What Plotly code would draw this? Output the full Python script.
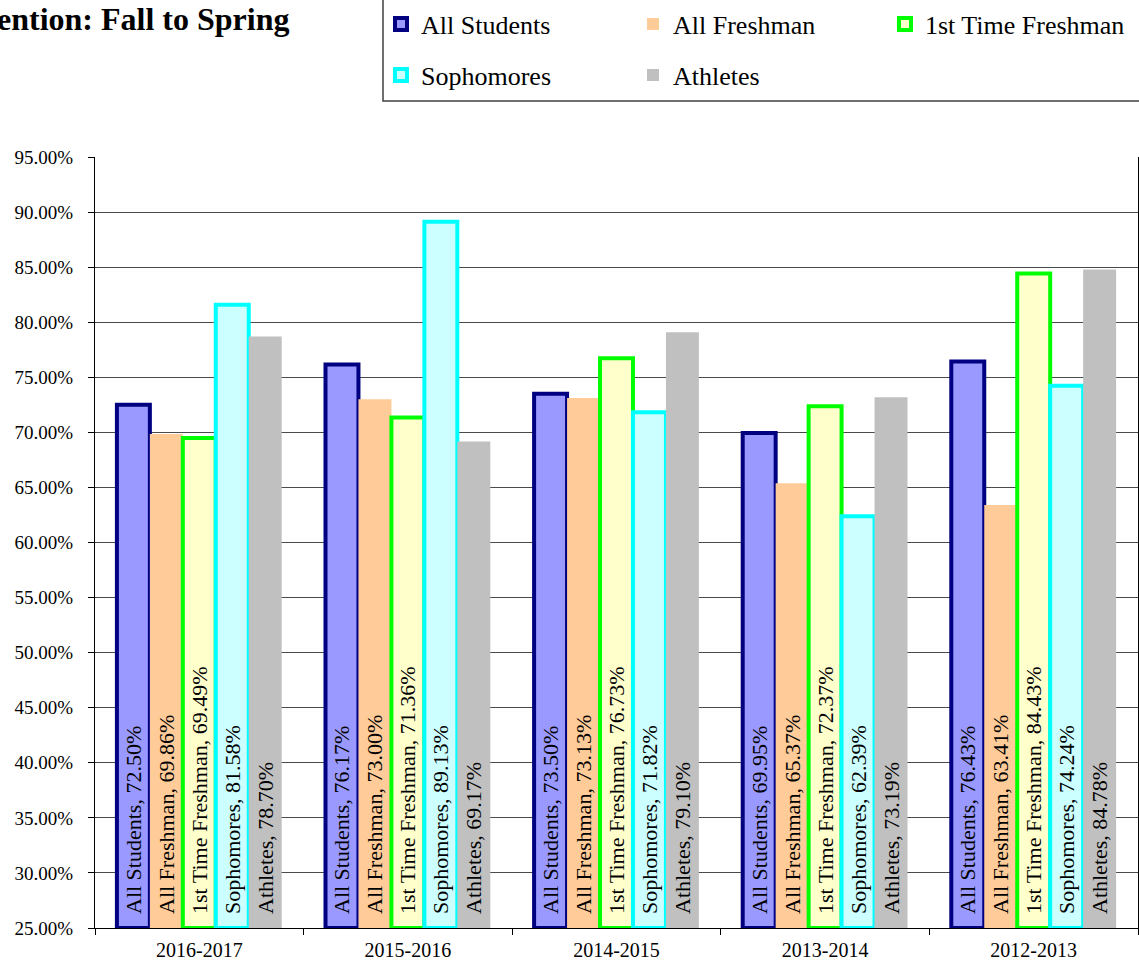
import plotly.graph_objects as go

years = ["2016-2017", "2015-2016", "2014-2015", "2013-2014", "2012-2013"]
all_students = [72.50, 76.17, 73.50, 69.95, 76.43]
all_freshman = [69.86, 73.00, 73.13, 65.37, 63.41]
first_time_freshman = [69.49, 71.36, 76.73, 72.37, 84.43]
sophomores = [81.58, 89.13, 71.82, 62.39, 74.24]
athletes = [78.70, 69.17, 79.10, 73.19, 84.78]
y_ticks = [25, 30, 35, 40, 45, 50, 55, 60, 65, 70, 75, 80, 85, 90, 95]

series = [
    ("All Students", all_students, "#9999FF", "#000080", 4, "legend"),
    ("All Freshman", all_freshman, "#FFCC99", "#FFCC99", 0, "legend"),
    ("1st Time Freshman", first_time_freshman, "#FFFFCC", "#00FF00", 4, "legend"),
    ("Sophomores", sophomores, "#CCFFFF", "#00FFFF", 4, "legend2"),
    ("Athletes", athletes, "#C0C0C0", "#C0C0C0", 0, "legend2"),
]

BASE = 25
FONT = "Liberation Serif"
PAD = "\u00a0\u00a0"
fig = go.Figure()
for name, vals, fill, line, lw, leg in series:
    fig.add_trace(go.Bar(
        name=name, x=years, y=[v - BASE for v in vals], base=BASE,
        marker=dict(color=fill, line=dict(color=line, width=lw)),
        text=[f"{PAD}{name}, {v:.2f}%" for v in vals],
        textposition="inside", insidetextanchor="start", textangle=-90,
        textfont=dict(family=FONT, size=22, color="black"),
        hovertemplate="%{x}: %{text}<extra></extra>",
        legend=leg,
    ))

W, H = 1139, 965
L, R, T, B = 95, 1, 157, 37
pw, ph = W - L - R, H - T - B

def px_x(p):
    return (p - L) / pw

def px_y(p):
    return 1 + (T - p) / ph

legend_common = dict(orientation="h", xanchor="left", yanchor="middle",
                     entrywidth=207, entrywidthmode="pixels",
                     font=dict(family=FONT, size=26, color="black"),
                     bgcolor="rgba(0,0,0,0)", itemclick=False, traceorder="normal")

fig.update_layout(
    width=W, height=H,
    margin=dict(l=L, r=R, t=T, b=B, autoexpand=False),
    paper_bgcolor="white", plot_bgcolor="white",
    barmode="group", bargap=0.21, bargroupgap=0,
    font=dict(family=FONT, color="black", size=20),
    uniformtext=dict(minsize=22, mode="show"),
    legend=dict(x=px_x(381), y=px_y(24), **legend_common),
    legend2=dict(x=px_x(381), y=px_y(75), **legend_common),
    showlegend=True,
)

fig.add_shape(type="rect", xref="paper", yref="paper",
              x0=px_x(383), x1=px_x(1150), y0=px_y(101), y1=px_y(-10),
              line=dict(color="#404040", width=1.5), fillcolor="rgba(0,0,0,0)", layer="below")

fig.add_annotation(text="<b>Retention: Fall to Spring</b>", xref="paper", yref="paper",
                   x=px_x(291), y=px_y(19), xanchor="right", yanchor="middle",
                   showarrow=False, font=dict(family=FONT, size=32, color="black"))

fig.update_yaxes(range=[25, 95], tickvals=y_ticks,
                 ticktext=[f"{v:.2f}%" for v in y_ticks],
                 showgrid=True, gridcolor="#4a4a4a", gridwidth=1,
                 showline=True, linecolor="black", linewidth=1, mirror=True,
                 ticks="outside", ticklen=6, tickcolor="black", automargin=False,
                 ticklabelstandoff=11,
                 tickfont=dict(family=FONT, size=19), zeroline=False)
fig.update_xaxes(showline=True, linecolor="black", linewidth=1, automargin=False,
                 ticks="outside", tickson="boundaries", ticklen=6, tickcolor="black",
                 ticklabelstandoff=4,
                 tickfont=dict(family=FONT, size=20), showgrid=False)

fig.write_html("out.html", config={"displayModeBar": False},
               post_script="document.body.style.margin='0px';document.body.style.overflow='hidden';")
